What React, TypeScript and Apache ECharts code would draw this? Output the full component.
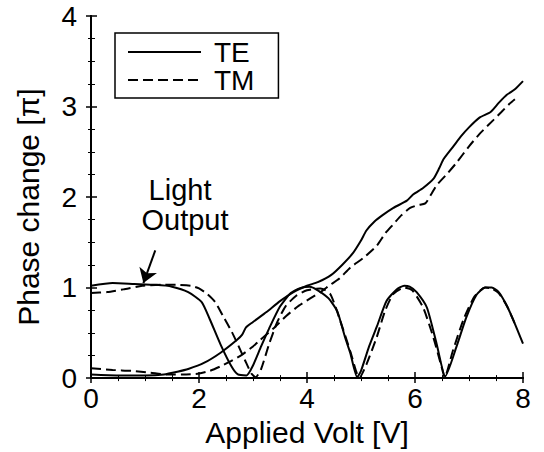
import React, { useEffect, useRef } from "react";
import * as echarts from "echarts";

// TE phase change (solid)
const tePhaseV = [0, 0.5, 1.0, 1.35, 1.6, 1.8, 2.1, 2.4, 2.7, 2.8, 2.87, 3.0, 3.25, 3.5, 3.75, 4.0, 4.2, 4.45, 4.65, 4.85, 5.0, 5.1, 5.25, 5.4, 5.6, 5.85, 5.97, 6.15, 6.34, 6.45, 6.53, 6.71, 6.85, 7.0, 7.2, 7.4, 7.55, 7.7, 7.85, 8.0];
const tePhaseY = [0.04, 0.03, 0.03, 0.04, 0.07, 0.1, 0.17, 0.28, 0.42, 0.48, 0.56, 0.62, 0.73, 0.85, 0.95, 1.02, 1.06, 1.14, 1.25, 1.38, 1.52, 1.63, 1.73, 1.8, 1.88, 1.96, 2.03, 2.1, 2.2, 2.32, 2.42, 2.56, 2.67, 2.77, 2.88, 2.94, 3.04, 3.13, 3.19, 3.28];

// TM phase change (dashed)
const tmPhaseV = [0, 0.4, 0.75, 1.1, 1.4, 1.7, 2.0, 2.2, 2.4, 2.6, 2.8, 3.0, 3.13, 3.4, 3.62, 3.85, 4.06, 4.25, 4.43, 4.6, 4.8, 5.05, 5.29, 5.45, 5.6, 5.75, 5.91, 6.05, 6.19, 6.3, 6.4, 6.6, 6.77, 7.0, 7.2, 7.45, 7.6, 7.75, 7.85];
const tmPhaseY = [0.11, 0.09, 0.08, 0.06, 0.04, 0.04, 0.05, 0.08, 0.13, 0.19, 0.26, 0.35, 0.42, 0.56, 0.69, 0.8, 0.88, 0.95, 1.03, 1.1, 1.22, 1.33, 1.46, 1.6, 1.7, 1.8, 1.88, 1.91, 1.93, 2.03, 2.13, 2.26, 2.38, 2.56, 2.7, 2.85, 2.94, 3.03, 3.08];

// TE light output (solid)
const teLightV = [0, 0.4, 0.8, 1.2, 1.5, 1.8, 2.05, 2.2, 2.4, 2.6, 2.72, 2.88, 3.0, 3.15, 3.3, 3.5, 3.7, 3.9, 4.05, 4.2, 4.4, 4.56, 4.7, 4.8, 4.93, 5.0, 5.15, 5.3, 5.47, 5.66, 5.8, 5.9, 6.03, 6.22, 6.4, 6.56, 6.77, 6.95, 7.14, 7.3, 7.42, 7.55, 7.7, 7.85, 8.0];
const teLightY = [1.02, 1.05, 1.04, 1.03, 1.01, 0.95, 0.84, 0.65, 0.37, 0.13, 0.04, 0.03, 0.14, 0.35, 0.55, 0.79, 0.94, 1.0, 1.01, 0.97, 0.88, 0.74, 0.46, 0.28, 0.01, 0.08, 0.35, 0.58, 0.85, 0.98, 1.02, 1.01, 0.95, 0.78, 0.38, 0.02, 0.35, 0.67, 0.92, 1.0, 1.0, 0.95, 0.8, 0.6, 0.38];

// TM light output (dashed)
const tmLightV = [0, 0.3, 0.6, 0.95, 1.3, 1.6, 1.85, 2.0, 2.15, 2.3, 2.45, 2.6, 2.72, 2.85, 2.97, 3.05, 3.15, 3.3, 3.45, 3.6, 3.8, 4.0, 4.25, 4.43, 4.6, 4.8, 4.97, 5.1, 5.29, 5.45, 5.6, 5.8, 5.95, 6.15, 6.34, 6.49, 6.55, 6.7, 6.9, 7.1, 7.3, 7.42, 7.55, 7.7, 7.85];
const tmLightY = [0.94, 0.95, 0.98, 1.02, 1.03, 1.03, 1.02, 0.99, 0.93, 0.84, 0.68, 0.52, 0.37, 0.2, 0.05, 0.01, 0.1, 0.38, 0.62, 0.79, 0.91, 0.97, 0.99, 0.93, 0.66, 0.3, 0.0, 0.15, 0.45, 0.75, 0.93, 1.0, 0.97, 0.78, 0.45, 0.13, 0.01, 0.3, 0.65, 0.9, 1.0, 0.99, 0.94, 0.8, 0.6];

// Arrow annotation (data coordinates): from label toward curve
const arrowFrom = [1.19, 1.41];
const arrowTo = [0.97, 1.05];

const xTicks = ["0", "2", "4", "6", "8"];
const yTicks = ["0", "1", "2", "3", "4"];

const FONT = "Liberation Sans";

const zip = (xs: number[], ys: number[]) => xs.map((x, i) => [x, ys[i]]);

export default function App() {
  const ref = useRef<HTMLDivElement>(null);
  useEffect(() => {
    if (!ref.current) return;
    const chart = echarts.init(ref.current, null, { renderer: "svg" });
    const solid = { color: "#000", width: 2, type: "solid" as const };
    const dashed = { color: "#000", width: 2, type: [10, 5] as any };
    const axisLineStyle = { color: "#000", width: 2 };
    const blackItem = { color: "#000" };
    chart.setOption({
      animation: false,
      backgroundColor: "#fff",
      grid: { left: 91, right: 21, top: 16, bottom: 63 },
      legend: {
        data: ["TE", "TM"],
        orient: "vertical",
        left: 115,
        top: 33,
        itemWidth: 73,
        itemHeight: 2,
        itemGap: 0,
        padding: [5, 24, 4, 12],
        borderColor: "#000",
        borderWidth: 1.5,
        backgroundColor: "#fff",
        selectedMode: false,
        itemStyle: { color: "transparent", borderColor: "transparent", borderWidth: 0 },
        textStyle: { fontSize: 28, fontFamily: FONT, color: "#000", lineHeight: 28, padding: [0, 0, 0, 8] },
      },
      xAxis: [
        {
          type: "value",
          min: 0,
          max: 8,
          interval: 2,
          name: "Applied Volt [V]",
          nameLocation: "middle",
          nameGap: 30,
          nameTextStyle: { fontSize: 30, fontFamily: FONT, color: "#000" },
          axisLine: { lineStyle: axisLineStyle },
          axisTick: { inside: true, length: 6, lineStyle: { color: "#000", width: 1.5 } },
          minorTick: { show: true, splitNumber: 4, length: 3, lineStyle: { color: "#000", width: 1 } },
          splitLine: { show: false },
          axisLabel: {
            fontSize: 28,
            fontFamily: FONT,
            color: "#000",
            margin: 6,
            formatter: (v: number) => xTicks[Math.round(v / 2)] ?? "",
          },
        },
        {
          type: "value",
          position: "top",
          min: 0,
          max: 8,
          interval: 2,
          axisLine: { lineStyle: axisLineStyle },
          axisTick: { inside: true, length: 5, lineStyle: { color: "#000", width: 1.5 } },
          minorTick: { show: true, splitNumber: 4, length: 3, lineStyle: { color: "#000", width: 1 } },
          splitLine: { show: false },
          axisLabel: { show: false },
        },
      ],
      yAxis: [
        {
          type: "value",
          min: 0,
          max: 4,
          interval: 1,
          name: "Phase change [π]",
          nameLocation: "middle",
          nameGap: 48,
          nameTextStyle: { fontSize: 30, fontFamily: FONT, color: "#000", padding: [0, 20, 0, 0] },
          axisLine: { lineStyle: axisLineStyle },
          axisTick: { inside: true, length: 6, lineStyle: { color: "#000", width: 1.5 } },
          minorTick: { show: true, splitNumber: 4, length: 4, lineStyle: { color: "#000", width: 1 } },
          splitLine: { show: false },
          axisLabel: {
            fontSize: 28,
            fontFamily: FONT,
            color: "#000",
            margin: 14,
            formatter: (v: number) => yTicks[Math.round(v)] ?? "",
          },
        },
        {
          type: "value",
          position: "right",
          min: 0,
          max: 4,
          interval: 1,
          axisLine: { lineStyle: axisLineStyle },
          axisTick: { inside: true, length: 5, lineStyle: { color: "#000", width: 1.5 } },
          minorTick: { show: true, splitNumber: 4, length: 3, lineStyle: { color: "#000", width: 1 } },
          splitLine: { show: false },
          axisLabel: { show: false },
        },
      ],
      series: [
        {
          type: "line",
          name: "TE",
          data: zip(tePhaseV, tePhaseY),
          symbol: "none",
          smooth: 0.2,
          itemStyle: blackItem,
          lineStyle: solid,
        },
        {
          type: "line",
          name: "TE",
          data: zip(teLightV, teLightY),
          symbol: "none",
          smooth: 0.2,
          itemStyle: blackItem,
          lineStyle: solid,
          markLine: {
            silent: true,
            symbol: ["none", "arrow"],
            symbolSize: 14,
            label: { show: false },
            lineStyle: { color: "#000", width: 2, type: "solid" },
            data: [[{ coord: arrowFrom }, { coord: arrowTo }]],
          },
        },
        {
          type: "line",
          name: "TM",
          data: zip(tmPhaseV, tmPhaseY),
          symbol: "none",
          smooth: 0.2,
          itemStyle: blackItem,
          lineStyle: dashed,
        },
        {
          type: "line",
          name: "TM",
          data: zip(tmLightV, tmLightY),
          symbol: "none",
          smooth: 0.2,
          itemStyle: blackItem,
          lineStyle: dashed,
        },
      ],
      graphic: [
        {
          type: "text",
          x: 180,
          y: 190,
          style: { text: "Light", fontSize: 29, fontFamily: FONT, fill: "#000", align: "center", verticalAlign: "middle" },
        },
        {
          type: "text",
          x: 185,
          y: 220,
          style: { text: "Output", fontSize: 29, fontFamily: FONT, fill: "#000", align: "center", verticalAlign: "middle" },
        },
      ],
    });
    return () => chart.dispose();
  }, []);
  return <div ref={ref} style={{ position: "absolute", left: 0, top: 0, width: 544, height: 452 }} />;
}
